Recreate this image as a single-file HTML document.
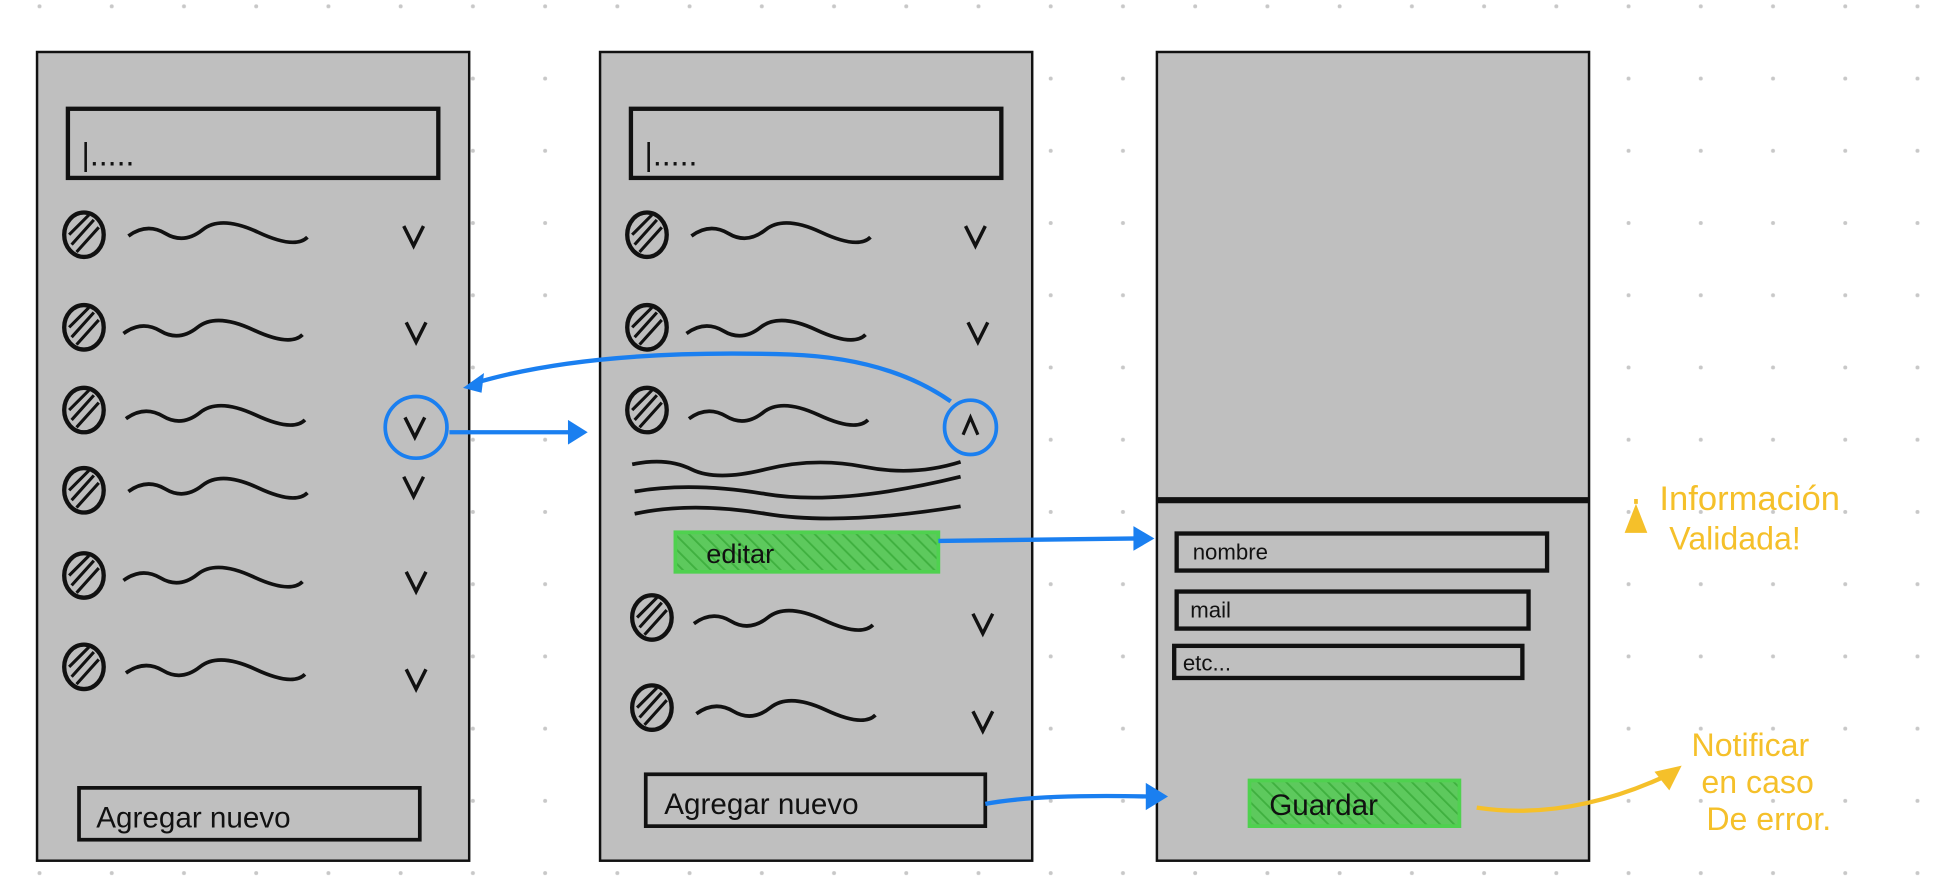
<!DOCTYPE html>
<html><head><meta charset="utf-8"><style>
html,body{margin:0;padding:0;background:#fff;width:1936px;height:888px;overflow:hidden}
svg{display:block}
text{font-family:"Liberation Sans",sans-serif}
</style></head><body>
<svg width="1936" height="888" viewBox="0 0 1568 719" xmlns="http://www.w3.org/2000/svg">
<defs>
<pattern id="dots" x="2" y="-24" width="58.5" height="58.5" patternUnits="userSpaceOnUse"><circle cx="30" cy="29" r="1.6" fill="#c8c8c8"/></pattern>
<pattern id="hatch" width="8" height="8" patternUnits="userSpaceOnUse" patternTransform="rotate(-45)"><rect width="8" height="8" fill="#5dc95d"/><line x1="0" y1="0" x2="0" y2="8" stroke="#3fb03f" stroke-width="3"/></pattern>
<g id="ava"><ellipse cx="0" cy="0" rx="16" ry="18" fill="none" stroke="#111" stroke-width="3.5"/><path d="M-10 8 L8 -12 M-12 0 L4 -16 M-6 14 L12 -6" stroke="#111" stroke-width="2.5"/></g>
<g id="sq"><path d="M0 5 Q15 -6 30 3 T60 0 T105 2 T145 6" fill="none" stroke="#111" stroke-width="3"/></g>
<g id="chk"><path d="M-8 -8 L0 8 L8 -8" fill="none" stroke="#111" stroke-width="2.8"/></g>
</defs>
<rect width="1568" height="719" fill="url(#dots)"/>
<rect x="30" y="42" width="350" height="655" fill="#bfbfbf" stroke="#111" stroke-width="2"/>
<rect x="486" y="42" width="350" height="655" fill="#bfbfbf" stroke="#111" stroke-width="2"/>
<rect x="937" y="42" width="350" height="655" fill="#bfbfbf" stroke="#111" stroke-width="2"/>
<!-- panel1 -->
<rect x="55" y="88" width="300" height="56" fill="none" stroke="#111" stroke-width="3.5"/>
<text x="66" y="134" font-size="26" fill="#111">|.....</text>
<use href="#ava" x="68" y="190"/><use href="#sq" x="104" y="186"/><use href="#chk" x="335" y="191"/>
<use href="#ava" x="68" y="265"/><use href="#sq" x="100" y="265"/><use href="#chk" x="337" y="269"/>
<use href="#ava" x="68" y="332"/><use href="#sq" x="102" y="334"/><use href="#chk" x="336" y="346"/>
<use href="#ava" x="68" y="397"/><use href="#sq" x="104" y="393"/><use href="#chk" x="335" y="394"/>
<use href="#ava" x="68" y="466"/><use href="#sq" x="100" y="465"/><use href="#chk" x="337" y="471"/>
<use href="#ava" x="68" y="540"/><use href="#sq" x="102" y="540"/><use href="#chk" x="337" y="550"/>
<circle cx="337" cy="346" r="25" fill="none" stroke="#1a7ff0" stroke-width="3"/>
<rect x="64" y="638" width="276" height="42" fill="none" stroke="#111" stroke-width="3"/>
<text x="78" y="670" font-size="24" fill="#111">Agregar nuevo</text>
<!-- panel2 -->
<rect x="511" y="88" width="300" height="56" fill="none" stroke="#111" stroke-width="3.5"/>
<text x="522" y="134" font-size="26" fill="#111">|.....</text>
<use href="#ava" x="524" y="190"/><use href="#sq" x="560" y="186"/><use href="#chk" x="790" y="191"/>
<use href="#ava" x="524" y="265"/><use href="#sq" x="556" y="265"/><use href="#chk" x="792" y="269"/>
<use href="#ava" x="524" y="332"/><use href="#sq" x="558" y="334"/>
<ellipse cx="786" cy="346" rx="21" ry="22" fill="none" stroke="#1a7ff0" stroke-width="3"/>
<path d="M780 352 L786 338 L792 352" fill="none" stroke="#111" stroke-width="2.6"/>
<path d="M512 376 Q540 370 560 380 T620 380 T700 378 T778 374 M514 398 Q560 390 620 400 T778 386 M514 416 Q560 406 620 416 T778 410" fill="none" stroke="#111" stroke-width="3"/>
<rect x="547" y="431" width="213" height="32" fill="url(#hatch)" stroke="#4fd14f" stroke-width="3"/>
<text x="572" y="456" font-size="22" fill="#111">editar</text>
<use href="#ava" x="528" y="500"/><use href="#sq" x="562" y="500"/><use href="#chk" x="796" y="505"/>
<use href="#ava" x="528" y="573"/><use href="#sq" x="564" y="573"/><use href="#chk" x="796" y="584"/>
<rect x="523" y="627" width="275" height="42" fill="none" stroke="#111" stroke-width="3"/>
<text x="538" y="659" font-size="24" fill="#111">Agregar nuevo</text>
<!-- panel3 -->
<path d="M937 405 L1287 405" stroke="#111" stroke-width="5"/>
<rect x="953" y="432" width="300" height="30" fill="none" stroke="#111" stroke-width="3.5"/>
<text x="966" y="453" font-size="18" fill="#111">nombre</text>
<rect x="953" y="479" width="285" height="30" fill="none" stroke="#111" stroke-width="3.5"/>
<text x="964" y="500" font-size="18" fill="#111">mail</text>
<rect x="951" y="523" width="282" height="26" fill="none" stroke="#111" stroke-width="3.5"/>
<text x="958" y="543" font-size="18" fill="#111">etc...</text>
<rect x="1012" y="632" width="170" height="37" fill="url(#hatch)" stroke="#4fd14f" stroke-width="3"/>
<text x="1028" y="660" font-size="24" fill="#111">Guardar</text>
<g stroke="#1a7ff0" stroke-width="3.5" fill="none">
<path d="M364 350 L465 350"/>
<path d="M770 325 Q720 290 640 287 Q480 282 385 310"/>
<path d="M760 438 L922 436"/>
<path d="M798 651 Q840 643 930 645"/>
</g>
<g fill="#1a7ff0">
<path d="M476 350 L460 340 L460 360 Z"/>
<path d="M375 314 L392 302 L390 318 Z"/>
<path d="M935 436 L918 426 L918 446 Z"/>
<path d="M946 645 L928 634 L928 656 Z"/>
</g>
<path d="M1196 654 Q1270 665 1350 628" stroke="#f5c02a" stroke-width="3.5" fill="none"/>
<path d="M1362 620 L1340 625 L1352 640 Z" fill="#f5c02a"/>
<path d="M1318 430 L1325 412 L1332 430 Z M1325 404 v4" fill="#f5c02a" stroke="#f5c02a" stroke-width="3"/>
<text x="1344" y="413" font-size="28" fill="#f5c02a">Información</text>
<text x="1352" y="445" font-size="26" fill="#f5c02a">Validada!</text>
<text x="1370" y="612" font-size="26" fill="#f5c02a">Notificar</text>
<text x="1378" y="642" font-size="26" fill="#f5c02a">en caso</text>
<text x="1382" y="672" font-size="26" fill="#f5c02a">De error.</text>
</svg>
</body></html>
